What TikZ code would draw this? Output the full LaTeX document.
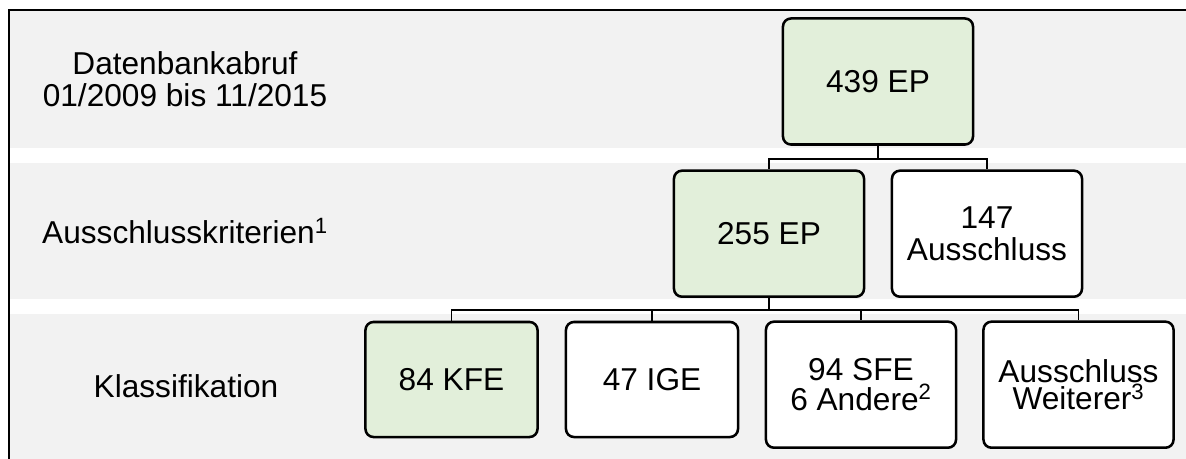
\documentclass[tikz,border=0pt]{standalone}
\usepackage{fontspec}
\setmainfont{Liberation Sans}
\definecolor{hellgruen}{HTML}{E2EFDA}
\definecolor{bandgrau}{HTML}{F2F2F2}
\tikzset{
  kasten/.style={draw, line width=1.8pt, rounded corners=0.2cm, align=center, inner sep=0pt, font=\fontsize{22.5}{22.5}\selectfont},
  gross/.style={minimum width=4.75cm, minimum height=3.15cm},
  klein/.style={minimum width=4.3cm, minimum height=2.875cm},
  zeile/.style={align=center, inner sep=0pt, font=\fontsize{22.5}{22.5}\selectfont},
  verbinder/.style={line width=0.9pt}
}
\begin{document}
\begin{tikzpicture}[x=0.025cm,y=-0.025cm]
\useasboundingbox (0,0) rectangle (1186,459);
\fill[bandgrau] (9,11) rectangle (1186,148);
\fill[bandgrau] (9,163) rectangle (1186,299);
\fill[bandgrau] (9,314) rectangle (1186,459);
\draw[line width=1.5pt] (9.3,459) -- (9.3,10) -- (1186,10);

\node (abruf) at (185,79) [zeile]{Datenbankabruf\\01/2009 bis 11/2015};
\node (kriterien) at (185,231) [zeile]{Ausschlusskriterien\textsuperscript{1}};
\node (klass) at (186,386.5) [zeile]{Klassifikation};

\node (ep439) at (878,81.5) [kasten,gross,fill=hellgruen]{439 EP};
\node (ep255) at (769,233.7) [kasten,gross,fill=hellgruen]{255 EP};
\node (aus147) at (987,233.7) [kasten,gross,fill=white]{147\\Ausschluss};
\node (kfe) at (451.5,379.5) [kasten,klein,fill=hellgruen]{84 KFE};
\node (ige) at (652,379.5) [kasten,klein,fill=white]{47 IGE};
\node (sfe) at (861,384.7) [kasten,gross,fill=white,font=\fontsize{22.5}{21.3}\selectfont]{94 SFE\\6 Andere\textsuperscript{2}};
\node (weiterer) at (1078.5,384.7) [kasten,gross,fill=white,font=\fontsize{22.5}{19.5}\selectfont]{Ausschluss\\Weiterer\textsuperscript{3}};

\coordinate (bus1) at (0,159);
\coordinate (bus2) at (0,310);
\draw[verbinder] (ep439.south) -- (ep439.south |- bus1) -| (ep255.north);
\draw[verbinder] (ep439.south |- bus1) -| (aus147.north);
\draw[verbinder] (ep255.south) -- (ep255.south |- bus2) -| (kfe.north);
\foreach \ziel in {ige,sfe,weiterer}
  \draw[verbinder] (ep255.south |- bus2) -| (\ziel.north);
\end{tikzpicture}
\end{document}
